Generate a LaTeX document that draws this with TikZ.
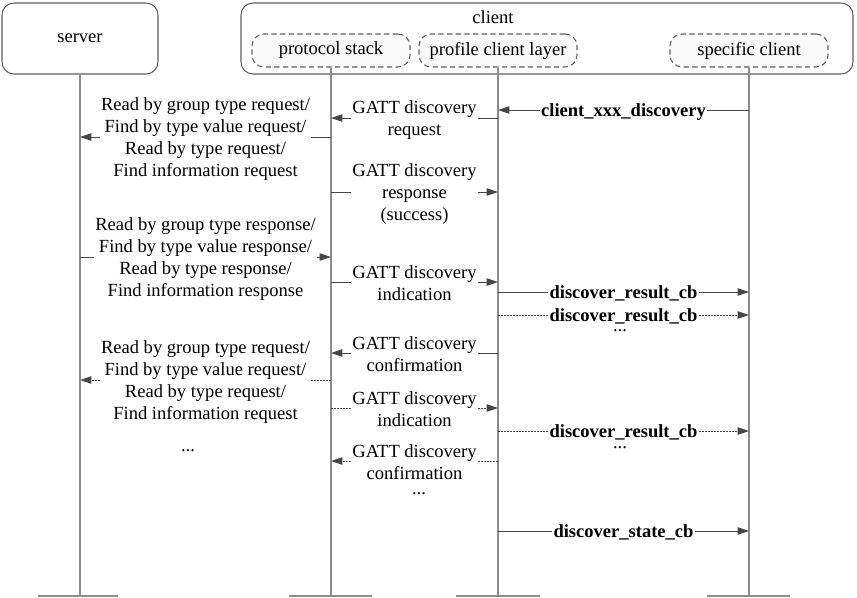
\documentclass[tikz,border=0pt]{standalone}
\usepackage{fontspec}
\setmainfont{Liberation Serif}
\usetikzlibrary{arrows.meta}
\definecolor{lifegray}{RGB}{140,140,140}
\definecolor{msggray}{RGB}{70,70,70}
\definecolor{boxgray}{RGB}{95,95,95}
\newcommand{\txt}{\rmfamily\fontsize{13.9}{16.5}\selectfont}

\begin{document}
\begin{tikzpicture}[
  x=0.75pt, y=-0.75pt,
  every node/.style={font=\txt},
  actor/.style={draw=boxgray,rounded corners=9pt,minimum width=117pt,
    minimum height=53.25pt,line width=0.8pt},
  layer/.style={draw=boxgray,dash pattern=on 4pt off 2.5pt,rounded corners=9pt,
    fill=gray!5,minimum width=118.5pt,minimum height=24.75pt,line width=0.8pt},
  life/.style={draw=lifegray,line width=1.1pt},
  msg/.style={draw=msggray,line width=0.75pt,-{Triangle[length=8.5pt,width=5.5pt]}},
  later/.style={msg,dash pattern=on 1.5pt off 0.75pt},
  lbl/.style={fill=white,align=center,inner xsep=1pt,inner ysep=0pt,yshift=-1.2pt},
  fn/.style={lbl,font=\txt\bfseries},
  more/.style={inner sep=0pt}
]
  \useasboundingbox (0,0) rectangle (857,597);

  % heads
  \node[actor] (server) at (80,38.5) {server};
  \node[actor,minimum width=459pt] (clientbox) at (547,38.5) {};
  \node (clientlbl) at (493,17) {client};
  \node[layer] (pstack) at (331,50.5) {protocol stack};
  \node[layer] (pcl)    at (498,50.5) {profile client layer};
  \node[layer] (spec)   at (749,50.5) {specific client};

  % lifelines
  \coordinate (bot) at (0,596);
  \draw[life] (server.south) -- (server |- bot) ++(-42,0) -- ++(80,0);
  \draw[life] (pstack.south) -- (pstack |- bot) ++(-42,0) -- ++(83,0);
  \draw[life] (pcl.south)    -- (pcl |- bot) ++(-42,0) -- ++(84,0);
  \draw[life] (spec.south)   -- (spec |- bot) ++(-42,0) -- ++(83,0);

  % rows
  \coordinate (r1) at (0,110);  \coordinate (r2) at (0,118);
  \coordinate (r3) at (0,137);  \coordinate (r4) at (0,192);
  \coordinate (r5) at (0,257);  \coordinate (r6) at (0,282);
  \coordinate (r7) at (0,292);  \coordinate (r8) at (0,315);
  \coordinate (r9) at (0,353);  \coordinate (r10) at (0,380);
  \coordinate (r11) at (0,408); \coordinate (r12) at (0,431);
  \coordinate (r13) at (0,461); \coordinate (r14) at (0,531);

  % first round
  \draw[msg] (spec |- r1) -- node[fn]{client\_xxx\_discovery} (pcl |- r1);
  \draw[msg] (pcl |- r2) -- node[lbl]{GATT discovery\\request} (pstack |- r2);
  \draw[msg] (pstack |- r3) -- node[lbl]{Read by group type request/\\
    Find by type value request/\\Read by type request/\\
    Find information request} (server |- r3);
  \draw[msg] (pstack |- r4) -- node[lbl]{GATT discovery\\response\\(success)} (pcl |- r4);
  \draw[msg] (server |- r5) -- node[lbl]{Read by group type response/\\
    Find by type value response/\\Read by type response/\\
    Find information response} (pstack |- r5);
  \draw[msg] (pstack |- r6) -- node[lbl]{GATT discovery\\indication} (pcl |- r6);
  \draw[msg] (pcl |- r7) -- node[fn]{discover\_result\_cb} (spec |- r7);
  \draw[later] (pcl |- r8) -- node[fn]{discover\_result\_cb} (spec |- r8);
  \node[more] (dotsa) at (620,331) {...};
  \draw[msg] (pcl |- r9) -- node[lbl]{GATT discovery\\confirmation} (pstack |- r9);

  % next rounds
  \draw[later] (pstack |- r10) -- node[lbl]{Read by group type request/\\
    Find by type value request/\\Read by type request/\\
    Find information request} (server |- r10);
  \node[more] (dotsb) at (188,451) {...};
  \draw[later] (pstack |- r11) -- node[lbl]{GATT discovery\\indication} (pcl |- r11);
  \draw[later] (pcl |- r12) -- node[fn]{discover\_result\_cb} (spec |- r12);
  \node[more] (dotsc) at (620,448) {...};
  \draw[later] (pcl |- r13) -- node[lbl]{GATT discovery\\confirmation} (pstack |- r13);
  \node[more] (dotsd) at (419,494) {...};
  \draw[msg] (pcl |- r14) -- node[fn]{discover\_state\_cb} (spec |- r14);
\end{tikzpicture}
\end{document}
